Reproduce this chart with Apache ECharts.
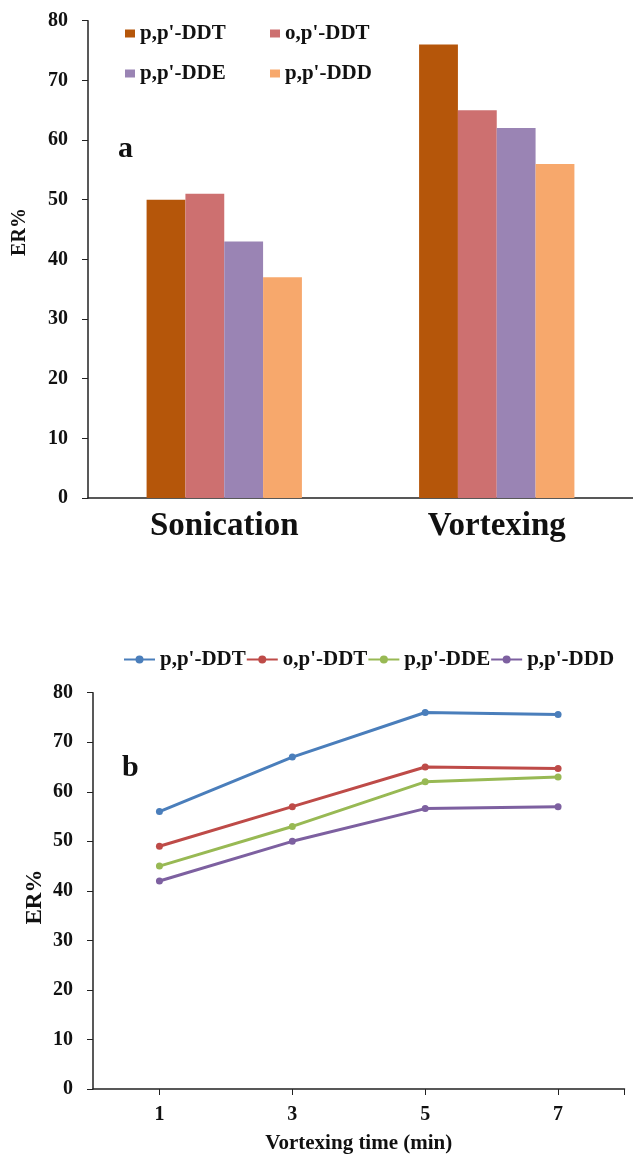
<!DOCTYPE html>
<html>
<head>
<meta charset="utf-8">
<script src="https://cdn.jsdelivr.net/npm/echarts@6/dist/echarts.min.js"></script>
<style>html,body{margin:0;padding:0;background:#fff;}#c{width:633px;height:1155px;}</style>
</head>
<body>
<div id="c"></div>
<script>
// ---- Data ----
const seriesNames = ["p,p'-DDT", "o,p'-DDT", "p,p'-DDE", "p,p'-DDD"];
const barCategories = ["Sonication", "Vortexing"];
const barDDT = [50, 76];
const barOPDDT = [51, 65];
const barDDE = [43, 62];
const barDDD = [37, 56];
const timePoints = [1, 3, 5, 7];
const lineDDT = [56, 67, 76, 75.6];
const lineOPDDT = [49, 57, 65, 64.7];
const lineDDE = [45, 53, 62, 63];
const lineDDD = [42, 50, 56.6, 57];

const barColors = ['#B5560A', '#CD7070', '#9A84B4', '#F7A86C'];
const lineColors = ['#4A7EBB', '#BE4B48', '#98B954', '#7D60A0'];
const FONT = 'Liberation Serif';
const axisColor = '#222';

const barValues = [barDDT, barOPDDT, barDDE, barDDD];
const lineValues = [lineDDT, lineOPDDT, lineDDE, lineDDD];

const chart = echarts.init(document.getElementById('c'), null, {renderer: 'canvas'});

const barSeries = seriesNames.map((n, i) => ({
  name: n, type: 'bar', xAxisIndex: 0, yAxisIndex: 0,
  data: barValues[i], barGap: '0%', barCategoryGap: '43%',
  itemStyle: {color: barColors[i]}
}));
const lineSeries = seriesNames.map((n, i) => ({
  name: n + ' ', type: 'line', xAxisIndex: 1, yAxisIndex: 1,
  data: timePoints.map((t, j) => [t, lineValues[i][j]]),
  symbol: 'circle', symbolSize: 7,
  lineStyle: {color: lineColors[i], width: 3},
  itemStyle: {color: lineColors[i]}
}));

const legendText = {fontFamily: FONT, fontWeight: 'bold', fontSize: 21, color: '#111'};

chart.setOption({
  animation: false,
  backgroundColor: '#fff',
  grid: [
    {left: 88, top: 20.7, right: 0, bottom: 657, containLabel: false},
    {left: 93, top: 692.7, right: 8.5, bottom: 64.3, containLabel: false}
  ],
  legend: [
    {data: [seriesNames[0], seriesNames[2]], orient: 'vertical', left: 120, top: 18,
     itemWidth: 10, itemHeight: 8, itemGap: 19, icon: 'rect', textStyle: legendText},
    {data: [seriesNames[1], seriesNames[3]], orient: 'vertical', left: 265, top: 18,
     itemWidth: 10, itemHeight: 8, itemGap: 19, icon: 'rect', textStyle: legendText},
    {data: seriesNames.map(n => n + ' '), orient: 'horizontal', left: 118, top: 644,
     itemWidth: 31, itemHeight: 10, itemGap: 0, textStyle: legendText,
     formatter: n => n.trim()}
  ],
  xAxis: [
    {type: 'category', gridIndex: 0, data: barCategories,
     axisLine: {lineStyle: {color: axisColor, width: 1.5}},
     axisTick: {show: false},
     axisLabel: {fontFamily: FONT, fontWeight: 'bold', fontSize: 33, color: '#111', margin: 12}},
    {type: 'value', gridIndex: 1, min: 0, max: 8,
     axisLine: {lineStyle: {color: axisColor, width: 1.5}},
     axisTick: {show: true, length: 6, customValues: [1, 3, 5, 7, 8], lineStyle: {color: axisColor}},
     axisLabel: {fontFamily: FONT, fontWeight: 'bold', fontSize: 20, color: '#111', margin: 16, customValues: timePoints},
     splitLine: {show: false},
     name: 'Vortexing time (min)', nameLocation: 'middle', nameGap: 44,
     nameTextStyle: {fontFamily: FONT, fontWeight: 'bold', fontSize: 21, color: '#111'}}
  ],
  yAxis: [
    {type: 'value', gridIndex: 0, min: 0, max: 80, interval: 10,
     axisLine: {show: true, lineStyle: {color: axisColor, width: 1.5}},
     axisTick: {show: true, length: 6, lineStyle: {color: axisColor}},
     splitLine: {show: false},
     axisLabel: {fontFamily: FONT, fontWeight: 'bold', fontSize: 20, color: '#111', margin: 20}},
    {type: 'value', gridIndex: 1, min: 0, max: 80, interval: 10,
     axisLine: {show: true, lineStyle: {color: axisColor, width: 1.5}},
     axisTick: {show: true, length: 6, lineStyle: {color: axisColor}},
     splitLine: {show: false},
     axisLabel: {fontFamily: FONT, fontWeight: 'bold', fontSize: 20, color: '#111', margin: 20}}
  ],
  graphic: [
    {type: 'text', left: 118, top: 134, style: {text: 'a', fontFamily: FONT, fontWeight: 'bold', fontSize: 30, fill: '#111'}},
    {type: 'text', left: 122, top: 753, style: {text: 'b', fontFamily: FONT, fontWeight: 'bold', fontSize: 30, fill: '#111'}},
    {type: 'text', x: 20, y: 232, rotation: Math.PI / 2,
     style: {text: 'ER%', fontFamily: FONT, fontWeight: 'bold', fontSize: 20, fill: '#111', align: 'center', verticalAlign: 'middle'}},
    {type: 'text', x: 35, y: 897, rotation: Math.PI / 2,
     style: {text: 'ER%', fontFamily: FONT, fontWeight: 'bold', fontSize: 23, fill: '#111', align: 'center', verticalAlign: 'middle'}}
  ],
  series: barSeries.concat(lineSeries)
});
</script>
</body>
</html>
